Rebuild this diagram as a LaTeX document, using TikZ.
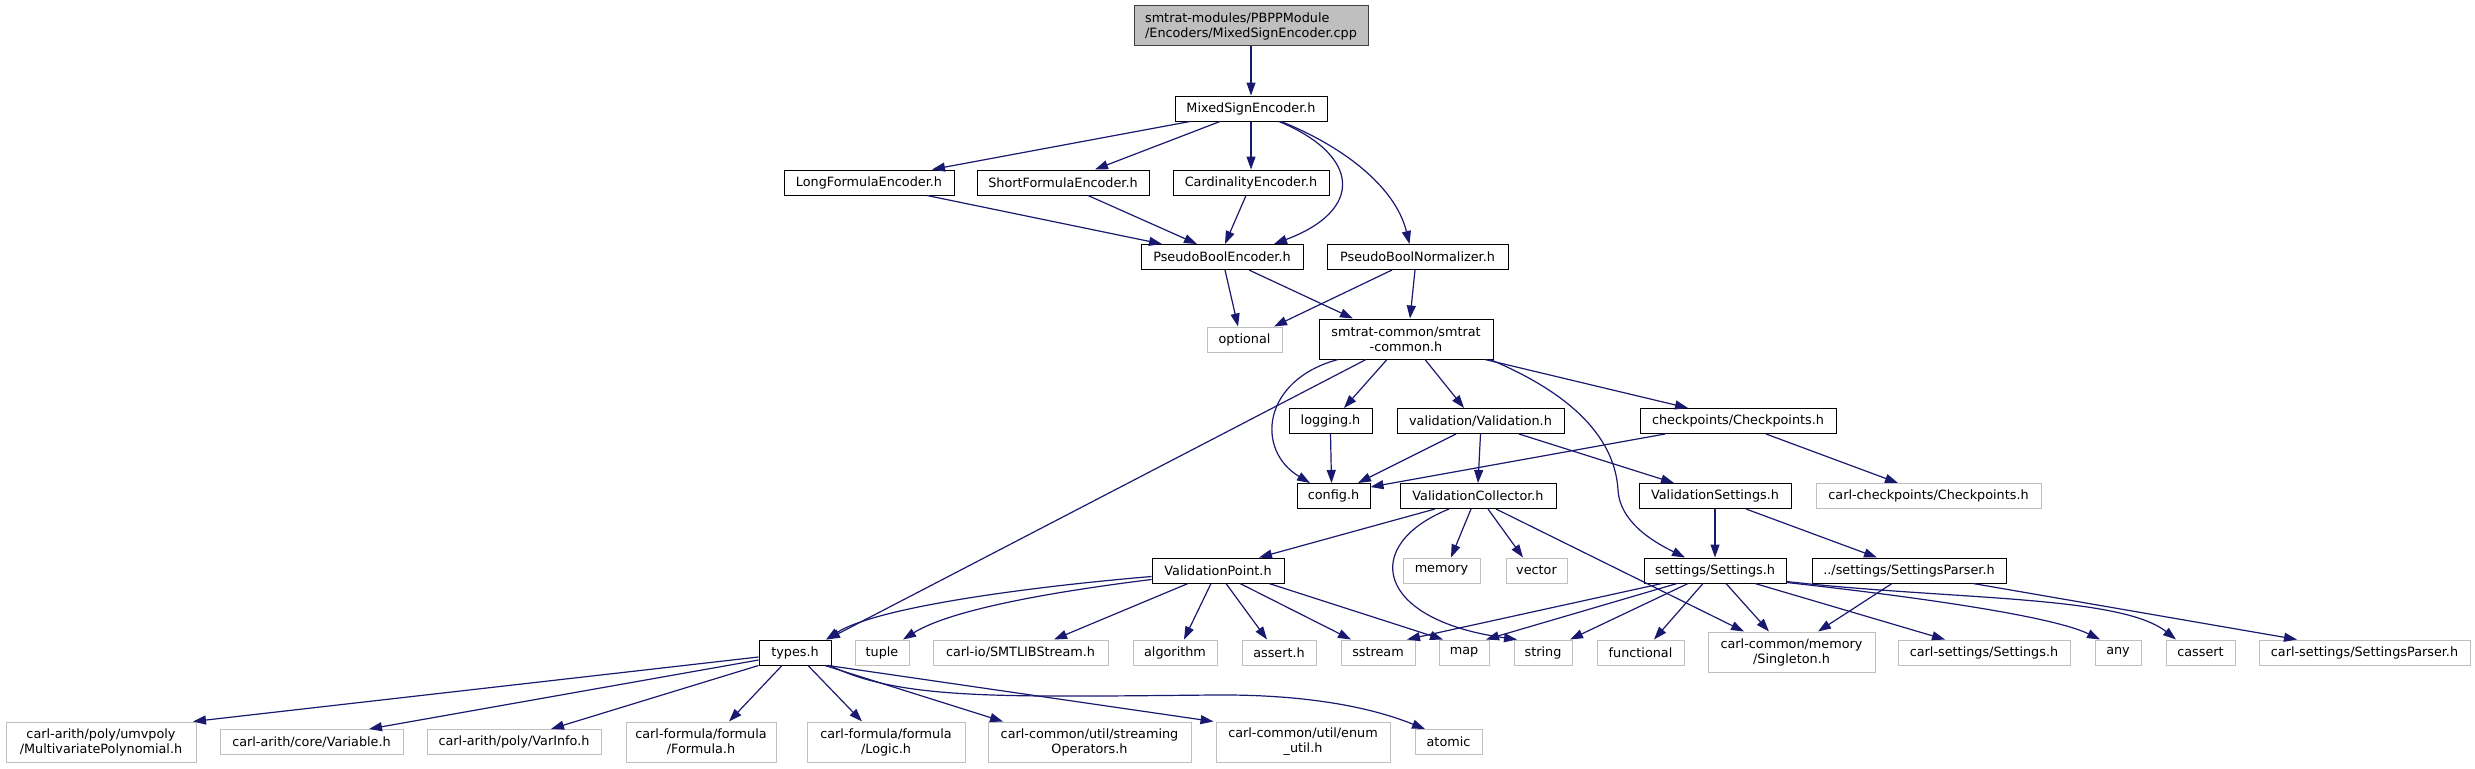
\documentclass[tikz,border=0pt]{standalone}
\usepackage{fontspec}
\setmainfont{DejaVu Sans}
\usetikzlibrary{arrows.meta}
\definecolor{edgeblue}{HTML}{191970}
\definecolor{grey75}{HTML}{BFBFBF}
\definecolor{topborder}{HTML}{404040}
\begin{document}
\begin{tikzpicture}[x=1pt,y=-1pt,
  nd/.style={draw=black, line width=1pt, fill=white, inner sep=0pt,
    minimum height=25pt, font=\fontsize{12.8}{15}\selectfont, align=center},
  ext/.style={nd, draw=grey75},
  two/.style={minimum height=40pt},
  e/.style={draw=edgeblue, line width=1.2pt, -{Triangle[length=13pt,width=9pt]}}]
\fill[white] (0,0) rectangle (2475,768);
\useasboundingbox (0,0) rectangle (2475,768);
% row 1-4
\node[nd, two, fill=grey75, draw=topborder, minimum width=234pt, align=left] (top) at (1251,26) {smtrat-modules/PBPPModule\\/Encoders/MixedSignEncoder.cpp};
\node[nd, minimum width=152pt] (mse) at (1251,108.5) {MixedSignEncoder.h};
\node[nd, minimum width=170pt] (long) at (869,182.5) {LongFormulaEncoder.h};
\node[nd, minimum width=172pt] (short) at (1063,182.5) {ShortFormulaEncoder.h};
\node[nd, minimum width=156pt] (card) at (1251,182.5) {CardinalityEncoder.h};
\node[nd, minimum width=162pt] (pbe) at (1222,257) {PseudoBoolEncoder.h};
\node[nd, minimum width=181pt] (pbn) at (1417.5,257) {PseudoBoolNormalizer.h};
% row 5
\node[ext, minimum width=75pt] (optional) at (1244.5,339.5) {optional};
\node[nd, two, minimum width=174pt] (smtrat) at (1406,339) {smtrat-common/smtrat\\-common.h};
% row 6
\node[nd, minimum width=83pt] (logging) at (1330.5,421) {logging.h};
\node[nd, minimum width=167pt] (validation) at (1480.5,421) {validation/Validation.h};
\node[nd, minimum width=196pt] (checkpoints) at (1738,421) {checkpoints/Checkpoints.h};
% row 7
\node[nd, minimum width=73pt] (config) at (1333.5,496) {config.h};
\node[nd, minimum width=156pt] (vc) at (1478,496) {ValidationCollector.h};
\node[nd, minimum width=152pt] (vs) at (1715,496) {ValidationSettings.h};
\node[ext, minimum width=225pt] (carlcp) at (1928.5,496) {carl-checkpoints/Checkpoints.h};
% row 8
\node[nd, minimum width=132pt] (vp) at (1218,570.5) {ValidationPoint.h};
\node[ext, minimum width=77pt] (memory) at (1441.5,570.5) {memory};
\node[ext, minimum width=61pt] (vector) at (1536.5,570.5) {vector};
\node[nd, minimum width=142pt] (settings) at (1715,570.5) {settings/Settings.h};
\node[nd, minimum width=194pt] (sparser) at (1909,570.5) {../settings/SettingsParser.h};
% row 9
\node[nd, minimum width=72pt] (types) at (795,652.5) {types.h};
\node[ext, minimum width=54pt] (tuple) at (882,652.5) {tuple};
\node[ext, minimum width=175pt] (smtlib) at (1020.5,652.5) {carl-io/SMTLIBStream.h};
\node[ext, minimum width=84pt] (algorithm) at (1175,652.5) {algorithm};
\node[ext, minimum width=74pt] (assert) at (1279,652.5) {assert.h};
\node[ext, minimum width=74pt] (sstream) at (1378,652.5) {sstream};
\node[ext, minimum width=50pt] (map) at (1464,652.5) {map};
\node[ext, minimum width=58pt] (string) at (1543,652.5) {string};
\node[ext, minimum width=87pt] (functional) at (1640.5,652.5) {functional};
\node[ext, two, minimum width=167pt] (singleton) at (1791.5,652) {carl-common/memory\\/Singleton.h};
\node[ext, minimum width=172pt] (carlsettings) at (1984,652.5) {carl-settings/Settings.h};
\node[ext, minimum width=46pt] (any) at (2118,652.5) {any};
\node[ext, minimum width=69pt] (cassert) at (2200.5,652.5) {cassert};
\node[ext, minimum width=211pt] (carlsp) at (2364.5,652.5) {carl-settings/SettingsParser.h};
% row 10
\node[ext, two, minimum width=190pt] (mvp) at (101,742) {carl-arith/poly/umvpoly\\/MultivariatePolynomial.h};
\node[ext, minimum width=183pt] (variable) at (311.5,742) {carl-arith/core/Variable.h};
\node[ext, minimum width=174pt] (varinfo) at (514,742) {carl-arith/poly/VarInfo.h};
\node[ext, two, minimum width=150pt] (formula) at (701,742) {carl-formula/formula\\/Formula.h};
\node[ext, two, minimum width=158pt] (logic) at (886,742) {carl-formula/formula\\/Logic.h};
\node[ext, two, minimum width=203pt] (streaming) at (1089.5,742) {carl-common/util/streaming\\Operators.h};
\node[ext, two, minimum width=174pt] (enum) at (1303,742) {carl-common/util/enum\\\_util.h};
\node[ext, minimum width=67pt] (atomic) at (1448.5,742) {atomic};
% edges
\draw[e] (top.south) -- (mse.north);
\draw[e] ([xshift=-61pt]mse.south) -- ([xshift=63pt]long.north);
\draw[e] ([xshift=-31pt]mse.south) -- ([xshift=32pt]short.north);
\draw[e] (mse.south) -- (card.north);
\draw[e] ([xshift=28pt]mse.south) .. controls (1360,155) and (1365,210) .. ([xshift=52pt]pbe.north);
\draw[e] ([xshift=30pt]mse.south) .. controls (1340,145) and (1395,185) .. ([xshift=-8pt]pbn.north);
\draw[e] ([xshift=58pt]long.south) -- ([xshift=-60pt]pbe.north);
\draw[e] ([xshift=25pt]short.south) -- ([xshift=-25pt]pbe.north);
\draw[e] ([xshift=-5pt]card.south) -- ([xshift=3pt]pbe.north);
\draw[e] ([xshift=3pt]pbe.south) -- ([xshift=-6.5pt]optional.north);
\draw[e] ([xshift=27pt]pbe.south) -- ([xshift=-53pt]smtrat.north);
\draw[e] ([xshift=-25.5pt]pbn.south) -- ([xshift=29.5pt]optional.north);
\draw[e] ([xshift=-2.5pt]pbn.south) -- ([xshift=4pt]smtrat.north);
\draw[e] ([xshift=-68pt]smtrat.south) .. controls (1262,380) and (1255,450) .. ([xshift=-23.5pt]config.north);
\draw[e] ([xshift=-40pt]smtrat.south) -- ([xshift=32pt]types.north);
\draw[e] ([xshift=-19pt]smtrat.south) -- ([xshift=13.5pt]logging.north);
\draw[e] ([xshift=19pt]smtrat.south) -- ([xshift=-16.5pt]validation.north);
\draw[e] ([xshift=84pt]smtrat.south) .. controls (1575,395) and (1615,440) .. (1618,490) .. controls (1620,525) and (1660,545) .. ([xshift=-30pt]settings.north);
\draw[e] ([xshift=79pt]smtrat.south) -- ([xshift=-50pt]checkpoints.north);
\draw[e] (logging.south) -- ([xshift=-2pt]config.north);
\draw[e] ([xshift=-24.5pt]validation.south) -- ([xshift=24.5pt]config.north);
\draw[e] (validation.south) -- (vc.north);
\draw[e] ([xshift=38.5pt]validation.south) -- ([xshift=-41pt]vs.north);
\draw[e] ([xshift=-73pt]checkpoints.south) -- ([yshift=9pt]config.east);
\draw[e] ([xshift=28pt]checkpoints.south) -- ([xshift=-30.5pt]carlcp.north);
\draw[e] ([xshift=-43pt]vc.south) -- ([xshift=41pt]vp.north);
\draw[e] ([xshift=-7pt]vc.south) -- ([xshift=9.5pt]memory.north);
\draw[e] ([xshift=10pt]vc.south) -- ([xshift=-13.5pt]vector.north);
\draw[e] ([xshift=-29pt]vc.south) .. controls (1360,545) and (1375,620) .. ([xshift=-26pt]string.north);
\draw[e] ([xshift=18pt]vc.south) -- ([xshift=-47.5pt]singleton.north);
\draw[e] (vs.south) -- (settings.north);
\draw[e] ([xshift=31pt]vs.south) -- ([xshift=-32pt]sparser.north);
\draw[e] ([xshift=-30pt]vp.south) -- ([xshift=33.5pt]smtlib.north);
\draw[e] ([xshift=-7pt]vp.south) -- ([xshift=9pt]algorithm.north);
\draw[e] ([xshift=8pt]vp.south) -- ([xshift=-12pt]assert.north);
\draw[e] ([xshift=22pt]vp.south) -- ([xshift=-27pt]sstream.north);
\draw[e] ([xshift=51pt]vp.south) -- ([xshift=-21pt]map.north);
\draw[e] ([yshift=-6pt]vp.west) .. controls (1050,585) and (880,605) .. ([xshift=31pt]types.north);
\draw[e] ([yshift=-9pt]vp.west) .. controls (1050,592) and (950,610) .. ([xshift=21pt]tuple.north);
\draw[e] ([xshift=-53pt]settings.south) -- ([xshift=29pt]sstream.north);
\draw[e] ([xshift=-38pt]settings.south) -- ([xshift=22pt]map.north);
\draw[e] ([xshift=-27pt]settings.south) -- ([xshift=27pt]string.north);
\draw[e] ([xshift=-12pt]settings.south) -- ([xshift=13.5pt]functional.north);
\draw[e] ([xshift=11pt]settings.south) -- ([xshift=-22.5pt]singleton.north);
\draw[e] ([xshift=40pt]settings.south) -- ([xshift=-39pt]carlsettings.north);
\draw[e] ([yshift=1pt]settings.south east) .. controls (1900,595) and (2050,615) .. ([xshift=-18pt]any.north);
\draw[e] ([yshift=2pt]settings.south east) .. controls (1950,600) and (2120,595) .. ([xshift=-24.5pt]cassert.north);
\draw[e] ([xshift=-17pt]sparser.south) -- ([xshift=26.5pt]singleton.north);
\draw[e] ([xshift=64pt]sparser.south) -- ([xshift=-67.5pt]carlsp.north);
\draw[e] ([yshift=-4.5pt]types.west) -- ([xshift=92pt]mvp.north);
\draw[e] ([yshift=-7.5pt]types.west) -- ([xshift=57.5pt]variable.north);
\draw[e] (types.south west) -- ([xshift=37pt]varinfo.north);
\draw[e] ([xshift=-13pt]types.south) -- ([xshift=28pt]formula.north);
\draw[e] ([xshift=13pt]types.south) -- ([xshift=-24pt]logic.north);
\draw[e] ([xshift=30pt]types.south) -- ([xshift=-86.5pt]streaming.north);
\draw[e] ([xshift=33pt]types.south) -- ([xshift=-2pt]enum.north west);
\draw[e] ([xshift=35pt]types.south) .. controls (900,700) and (1000,697) .. (1214,695) .. controls (1330,694) and (1390,715) .. ([xshift=-23.5pt]atomic.north);
\end{tikzpicture}
\end{document}
